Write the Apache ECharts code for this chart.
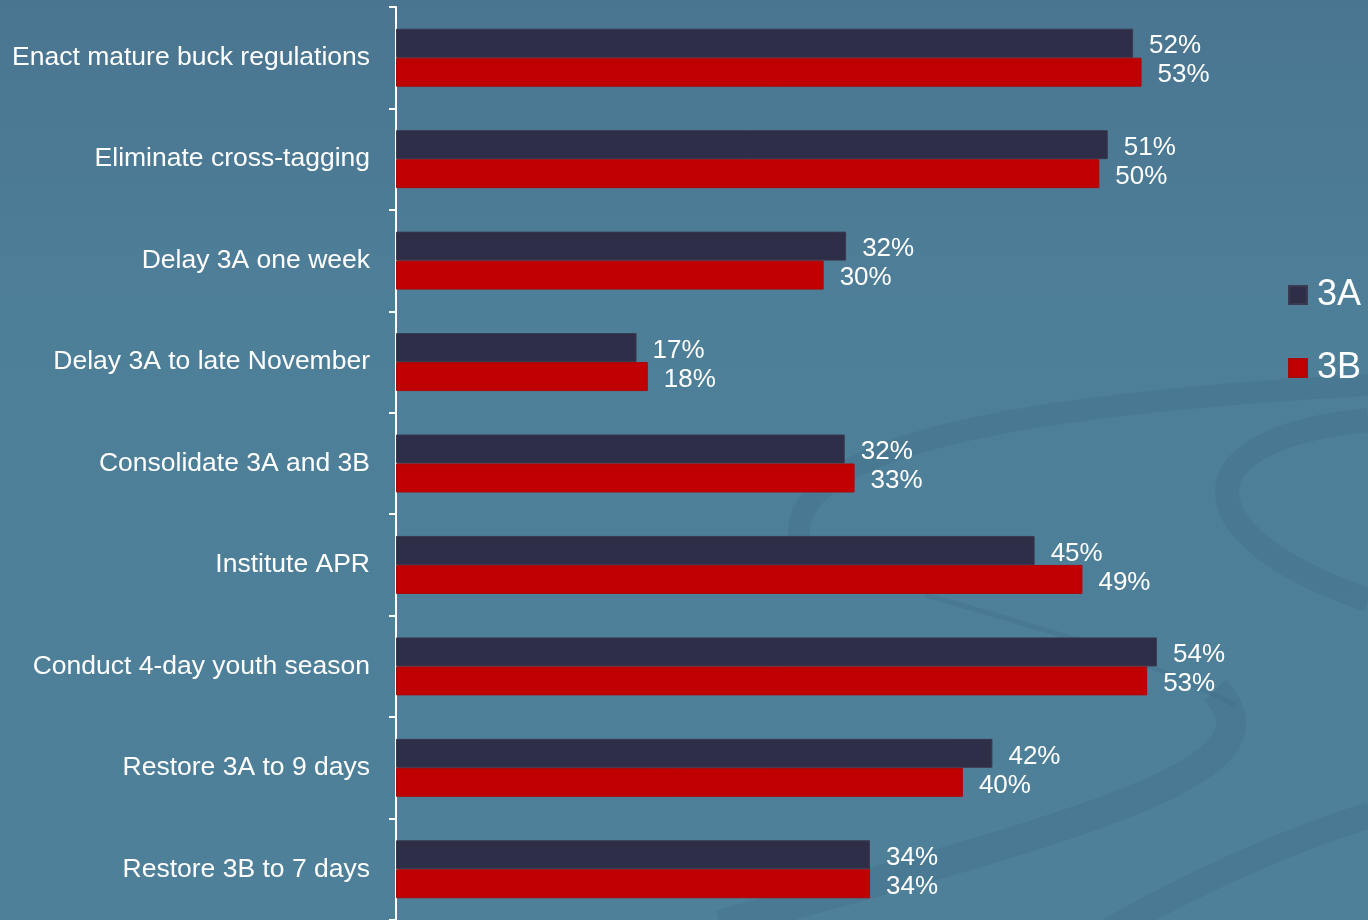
<!DOCTYPE html>
<html>
<head>
<meta charset="utf-8">
<script src="https://cdn.jsdelivr.net/npm/echarts@6/dist/echarts.min.js"></script>
<style>
  html, body { margin: 0; padding: 0; background: #4e7e98; }
  #chart { width: 1368px; height: 920px; }
</style>
</head>
<body>
<div id="chart"></div>
<script>
const categories = [
  'Enact mature buck regulations',
  'Eliminate cross-tagging',
  'Delay 3A one week',
  'Delay 3A to late November',
  'Consolidate 3A and 3B',
  'Institute APR',
  'Conduct 4-day youth season',
  'Restore 3A to 9 days',
  'Restore 3B to 7 days'
];
const values3A = [52.4, 50.6, 32.0, 17.1, 31.9, 45.4, 54.1, 42.4, 33.7];
const values3B = [53.0, 50.0, 30.4, 17.9, 32.6, 48.8, 53.4, 40.3, 33.7];

const chart = echarts.init(document.getElementById('chart'));

const font = 'Liberation Sans, Arial, sans-serif';
const swirl = 'rgba(62,102,128,0.26)';

const labelStyle = {
  show: true,
  position: 'right',
  distance: 16,
  offset: [0, 3],
  color: '#ffffff',
  fontSize: 26,
  fontFamily: font,
  formatter: function (p) { return Math.round(p.value) + '%'; }
};

const option = {
  backgroundColor: {
    type: 'linear', x: 0, y: 0, x2: 0, y2: 1,
    colorStops: [
      { offset: 0, color: '#4a7590' },
      { offset: 0.35, color: '#4e7f99' },
      { offset: 1, color: '#4f809a' }
    ]
  },
  animation: false,
  // background decoration (swirls)
  graphic: [
    { type: 'bezierCurve', z: -10, silent: true,
      shape: { x1: 1368, y1: 385, cpx1: 1000, cpy1: 405, cpx2: 780, cpy2: 450, x2: 800, y2: 545 },
      style: { stroke: swirl, lineWidth: 22, fill: null } },
    { type: 'bezierCurve', z: -10, silent: true,
      shape: { x1: 1368, y1: 420, cpx1: 1170, cpy1: 440, cpx2: 1190, cpy2: 540, x2: 1368, y2: 600 },
      style: { stroke: swirl, lineWidth: 24, fill: null } },
    { type: 'bezierCurve', z: -10, silent: true,
      shape: { x1: 1215, y1: 690, cpx1: 1290, cpy1: 770, cpx2: 1100, cpy2: 820, x2: 720, y2: 925 },
      style: { stroke: swirl, lineWidth: 30, fill: null } },
    { type: 'bezierCurve', z: -10, silent: true,
      shape: { x1: 925, y1: 595, cpx1: 1050, cpy1: 630, cpx2: 1150, cpy2: 660, x2: 1235, y2: 705 },
      style: { stroke: swirl, lineWidth: 5, fill: null } },
    { type: 'bezierCurve', z: -10, silent: true,
      shape: { x1: 1110, y1: 930, cpx1: 1200, cpy1: 880, cpx2: 1290, cpy2: 840, x2: 1370, y2: 815 },
      style: { stroke: swirl, lineWidth: 26, fill: null } }
  ],
  grid: { left: 396, top: 7, width: 844, height: 913 },
  legend: {
    orient: 'vertical',
    left: 1283,
    top: 272,
    itemWidth: 18,
    itemHeight: 18,
    itemGap: 37,
    icon: 'rect',
    textStyle: { color: '#ffffff', fontSize: 36, fontFamily: font, padding: [4, 0, 0, 5] },
    data: ['3A', '3B']
  },
  xAxis: {
    type: 'value',
    min: 0,
    max: 60,
    show: false,
    splitLine: { show: false }
  },
  yAxis: {
    type: 'category',
    inverse: true,
    data: categories,
    axisLine: { show: true, lineStyle: { color: '#ffffff', width: 2 } },
    axisTick: { show: true, length: 7, lineStyle: { color: '#ffffff', width: 2 } },
    axisLabel: {
      color: '#ffffff',
      fontSize: 26.5,
      margin: 26,
      padding: [4, 0, 0, 0],
      fontFamily: font
    }
  },
  series: [
    {
      name: '3A',
      type: 'bar',
      data: values3A,
      barWidth: 29,
      barGap: '0%',
      itemStyle: { color: '#2e2e48', borderColor: '#3a3a50', borderWidth: 1 },
      label: labelStyle
    },
    {
      name: '3B',
      type: 'bar',
      data: values3B,
      barWidth: 29,
      barGap: '0%',
      itemStyle: { color: '#c00000', borderColor: '#a80a0a', borderWidth: 1 },
      label: labelStyle
    }
  ]
};

chart.setOption(option);
window.addEventListener('resize', function () {
  chart.resize();
});
</script>
</body>
</html>
